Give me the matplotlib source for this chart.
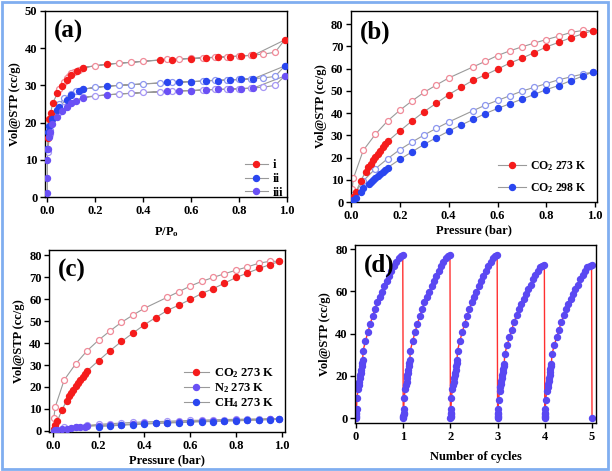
import matplotlib
matplotlib.use("Agg")
import matplotlib.pyplot as plt
from matplotlib.lines import Line2D
from matplotlib.patches import Rectangle

plt.rcParams['font.family'] = ['Liberation Serif', 'DejaVu Serif']
plt.rcParams['font.weight'] = 'bold'
plt.rcParams['mathtext.fontset'] = 'custom'
plt.rcParams['mathtext.rm'] = 'Liberation Serif:bold'
plt.rcParams['mathtext.it'] = 'Liberation Serif:bold'
plt.rcParams['mathtext.default'] = 'rm'

# ---- panel (a): N2 isotherms of samples i, ii, iii ----
a_labels = ['i', 'ii', 'iii']
a_i_ads_p = [0.004, 0.007, 0.014, 0.022, 0.042, 0.062, 0.083, 0.10, 0.125, 0.147, 0.25, 0.47, 0.52, 0.60, 0.66, 0.71, 0.76, 0.81, 0.86, 0.99]
a_i_ads_v = [15.8, 20.9, 22.7, 25.2, 27.9, 29.9, 31.5, 32.7, 34.0, 34.8, 35.7, 36.8, 36.9, 37.2, 37.4, 37.5, 37.7, 37.9, 38.1, 42.2]
a_i_des_p = [0.95, 0.90, 0.85, 0.80, 0.75, 0.70, 0.65, 0.60, 0.55, 0.50, 0.40, 0.35, 0.30, 0.20, 0.15, 0.13, 0.11, 0.10, 0.09, 0.08, 0.07, 0.05]
a_i_des_v = [38.9, 38.4, 38.1, 37.9, 37.7, 37.6, 37.4, 37.3, 37.1, 37.0, 36.5, 36.2, 36.0, 35.3, 34.7, 34.2, 33.6, 33.2, 32.6, 32.0, 31.0, 29.0]

a_ii_ads_p = [0.0, 0.004, 0.008, 0.02, 0.04, 0.05, 0.08, 0.10, 0.13, 0.15, 0.25, 0.50, 0.55, 0.60, 0.66, 0.71, 0.76, 0.81, 0.86, 0.99]
a_ii_ads_v = [13.0, 17.5, 19.0, 21.0, 23.3, 24.3, 26.2, 27.3, 28.6, 29.0, 29.8, 30.8, 30.9, 31.0, 31.2, 31.3, 31.4, 31.6, 31.8, 35.2]
a_ii_des_p = [0.95, 0.90, 0.85, 0.80, 0.75, 0.70, 0.65, 0.60, 0.52, 0.47, 0.40, 0.35, 0.30, 0.20, 0.15, 0.12, 0.10, 0.07, 0.05, 0.01, 0.002]
a_ii_des_v = [32.4, 32.0, 31.8, 31.6, 31.5, 31.4, 31.2, 31.0, 30.8, 30.6, 30.4, 30.2, 30.0, 29.5, 29.0, 28.4, 27.8, 26.5, 25.0, 18.0, 16.0]

a_iii_ads_p = [0.0, 0.0, 0.0, 0.002, 0.005, 0.01, 0.02, 0.04, 0.06, 0.08, 0.10, 0.12, 0.15, 0.25, 0.50, 0.55, 0.60, 0.66, 0.71, 0.76, 0.81, 0.86, 0.99]
a_iii_ads_v = [1.0, 5.0, 10.0, 13.0, 16.0, 17.5, 19.5, 21.5, 23.0, 24.2, 25.2, 25.9, 26.7, 27.5, 28.4, 28.5, 28.6, 28.8, 28.9, 29.0, 29.1, 29.3, 32.5]
a_iii_des_p = [0.95, 0.90, 0.85, 0.80, 0.75, 0.70, 0.65, 0.60, 0.52, 0.47, 0.40, 0.35, 0.30, 0.20, 0.15, 0.10, 0.07, 0.05, 0.01, 0.001]
a_iii_des_v = [30.0, 29.5, 29.3, 29.1, 29.0, 28.9, 28.8, 28.6, 28.5, 28.3, 28.1, 27.9, 27.7, 27.2, 26.8, 25.3, 24.2, 22.8, 17.0, 12.0]

# ---- panels (b), (c): gas isotherms ----
co2_273_ads_p = [0.005, 0.01, 0.02, 0.04, 0.06, 0.07, 0.08, 0.09, 0.10, 0.11, 0.12, 0.13, 0.14, 0.15, 0.20, 0.25, 0.30, 0.35, 0.40, 0.45, 0.50, 0.55, 0.60, 0.65, 0.70, 0.75, 0.80, 0.85, 0.90, 0.95, 0.99]
co2_273_ads_v = [1.0, 2.5, 4.5, 9.5, 13.7, 15.8, 17.2, 18.8, 20.3, 21.6, 23.0, 24.6, 26.0, 27.3, 32.0, 36.5, 40.7, 44.5, 48.3, 51.6, 54.8, 57.2, 59.8, 62.5, 64.7, 67.2, 69.8, 71.8, 73.9, 75.7, 77.1]
co2_273_des_p = [0.99, 0.95, 0.90, 0.85, 0.80, 0.75, 0.70, 0.65, 0.60, 0.55, 0.50, 0.40, 0.35, 0.30, 0.25, 0.20, 0.15, 0.10, 0.05, 0.01, 0.005]
co2_273_des_v = [77.1, 77.2, 76.3, 74.6, 73.1, 71.5, 69.8, 68.0, 65.9, 63.3, 60.8, 55.8, 52.7, 49.4, 45.5, 41.3, 36.5, 30.5, 23.2, 10.7, 6.0]

co2_298_ads_p = [0.005, 0.01, 0.02, 0.04, 0.05, 0.075, 0.08, 0.09, 0.10, 0.11, 0.12, 0.13, 0.14, 0.15, 0.20, 0.25, 0.30, 0.35, 0.40, 0.45, 0.50, 0.55, 0.60, 0.65, 0.70, 0.75, 0.80, 0.85, 0.90, 0.95, 0.99]
co2_298_ads_v = [0.5, 1.0, 2.0, 4.4, 6.3, 8.2, 8.8, 9.8, 10.8, 11.8, 12.8, 13.7, 14.6, 15.5, 19.2, 22.6, 26.0, 29.0, 31.9, 34.6, 37.2, 39.8, 42.1, 44.2, 46.3, 48.4, 50.6, 52.4, 54.6, 56.7, 58.5]
co2_298_des_p = [0.99, 0.95, 0.90, 0.85, 0.80, 0.75, 0.70, 0.65, 0.60, 0.55, 0.50, 0.40, 0.35, 0.30, 0.25, 0.20, 0.15, 0.10, 0.05, 0.01, 0.005]
co2_298_des_v = [58.5, 57.6, 56.3, 55.0, 53.3, 51.6, 49.9, 47.8, 45.7, 43.6, 41.1, 36.0, 33.2, 30.2, 27.0, 23.6, 19.5, 15.0, 9.5, 3.0, 1.5]

n2_ads_p = [0.005, 0.01, 0.02, 0.04, 0.06, 0.08, 0.10, 0.12, 0.14, 0.15, 0.20, 0.25, 0.30, 0.35, 0.40, 0.45, 0.50, 0.55, 0.60, 0.65, 0.70, 0.75, 0.80, 0.85, 0.90, 0.95, 0.99]
n2_ads_v = [0.2, 0.3, 0.5, 0.8, 1.1, 1.4, 1.6, 1.8, 2.0, 2.1, 2.4, 2.7, 2.9, 3.2, 3.4, 3.6, 3.8, 4.0, 4.2, 4.4, 4.5, 4.7, 4.8, 5.0, 5.1, 5.3, 5.5]
n2_des_p = [0.95, 0.90, 0.85, 0.80, 0.75, 0.70, 0.65, 0.60, 0.55, 0.50, 0.40, 0.35, 0.30, 0.25, 0.20, 0.15, 0.10, 0.05]
n2_des_v = [5.6, 5.5, 5.4, 5.3, 5.2, 5.1, 4.9, 4.8, 4.6, 4.4, 4.1, 3.9, 3.6, 3.3, 3.0, 2.5, 2.0, 1.6]
ch4_ads_p = [0.20, 0.25, 0.30, 0.35, 0.40, 0.45, 0.50, 0.55, 0.60, 0.65, 0.70, 0.75, 0.80, 0.85, 0.90, 0.95, 0.99]
ch4_ads_v = [2.0, 2.3, 2.6, 2.9, 3.1, 3.4, 3.6, 3.8, 4.0, 4.2, 4.3, 4.5, 4.6, 4.8, 5.0, 5.1, 5.4]

# ---- panel (d): cycling ----
cyc_p = [0.0, 0.002, 0.004, 0.006, 0.008, 0.01, 0.02, 0.04, 0.06, 0.07, 0.08, 0.09, 0.10, 0.11, 0.12, 0.13, 0.14, 0.15, 0.20, 0.25, 0.30, 0.35, 0.40, 0.45, 0.50, 0.55, 0.60, 0.65, 0.70, 0.75, 0.80, 0.85, 0.90, 0.95, 0.99]
cyc_v_1to3 = [0.0, 0.6, 1.2, 1.8, 2.5, 4.4, 9.4, 13.6, 15.8, 17.2, 18.8, 20.3, 21.6, 23.0, 24.6, 26.0, 27.3, 32.0, 36.5, 40.7, 44.5, 48.3, 51.6, 54.8, 57.2, 59.8, 62.5, 64.7, 67.2, 69.8, 71.8, 73.9, 75.7, 76.5, 77.1]
cyc_v_4to5 = [0.0, 0.6, 1.2, 1.8, 2.5, 4.2, 8.8, 12.8, 14.8, 16.2, 17.7, 19.1, 20.4, 21.7, 23.2, 24.5, 25.8, 30.2, 34.4, 38.3, 41.9, 45.5, 48.6, 51.6, 53.9, 56.3, 58.8, 60.9, 63.2, 65.7, 67.6, 69.6, 71.3, 72.0, 72.6]
n_cycles = 5

RED, RED_O = '#f51c1c', '#f08a98'
BLUE, BLUE_O = '#2a46f0', '#8c96f0'
PURP, PURP_O = '#6a50f5', '#a596f5'
GRAY = '#9a9a9a'
MS = 4.3
TICK_FS = 9

fig = plt.figure(figsize=(6.12, 4.71), dpi=100)
fig.patches.append(Rectangle((0.003, 0.005), 0.991, 0.99, transform=fig.transFigure,
                             fill=False, edgecolor='#80aef0', linewidth=2))


def style(ax):
    ax.tick_params(direction='out', length=3.5, width=1, labelsize=TICK_FS, top=False, right=False, pad=2)
    for s in ax.spines.values():
        s.set_linewidth(1)
    ax.set_ylabel('Vol@STP (cc/g)', fontsize=9, fontweight='bold', labelpad=3)


def branch(ax, p_ads, v_ads, p_des, v_des, col, col_o, label=None):
    ax.plot(list(p_ads) + list(p_des), list(v_ads) + list(v_des), '-', color=GRAY, lw=0.8, zorder=1)
    ax.plot(p_des, v_des, 'o', ms=MS, mfc='white', mec=col_o, mew=0.9, zorder=2)
    ax.plot(p_ads, v_ads, 'o', ms=MS, color=col, mec=col, zorder=3)
    return Line2D([], [], color=GRAY, lw=0.8, marker='o', ms=MS, mfc=col, mec=col, label=label)


def panel_tag(ax, t):
    ax.text(0.035, 0.95, t, transform=ax.transAxes, fontsize=18, fontweight='bold', va='top')


# (a)
axa = fig.add_axes([0.0735, 0.5817, 0.3955, 0.395])
h = [branch(axa, a_i_ads_p, a_i_ads_v, a_i_des_p, a_i_des_v, RED, RED_O, a_labels[0]),
     branch(axa, a_ii_ads_p, a_ii_ads_v, a_ii_des_p, a_ii_des_v, BLUE, BLUE_O, a_labels[1]),
     branch(axa, a_iii_ads_p, a_iii_ads_v, a_iii_des_p, a_iii_des_v, PURP, PURP_O, a_labels[2])]
axa.set_xlim(-0.01, 1.0)
axa.set_ylim(0, 50)
axa.set_xticks([0, 0.2, 0.4, 0.6, 0.8, 1.0])
axa.set_yticks([0, 10, 20, 30, 40, 50])
axa.set_xlabel('P/P$_o$', fontsize=9, fontweight='bold', labelpad=6)
style(axa)
axa.legend(handles=h, loc='lower right', frameon=False, fontsize=9, handlelength=1.8,
           labelspacing=0.15, handletextpad=0.4, bbox_to_anchor=(1.03, -0.07))
panel_tag(axa, '(a)')

# (b)
axb = fig.add_axes([0.5735, 0.571, 0.402, 0.406])
h = [branch(axb, co2_273_ads_p, co2_273_ads_v, co2_273_des_p, co2_273_des_v, RED, RED_O, 'CO$_2$ 273 K'),
     branch(axb, co2_298_ads_p, co2_298_ads_v, co2_298_des_p, co2_298_des_v, BLUE, BLUE_O, 'CO$_2$ 298 K')]
axb.set_xlim(0, 1.007)
axb.set_ylim(0, 86)
axb.set_xticks([0, 0.2, 0.4, 0.6, 0.8, 1.0])
axb.set_yticks(range(0, 81, 10))
axb.set_xlabel('Pressure (bar)', fontsize=9, fontweight='bold', labelpad=2)
style(axb)
axb.legend(handles=h, loc='lower right', frameon=False, fontsize=8.5, handlelength=2.4,
           labelspacing=0.7, handletextpad=0.3, bbox_to_anchor=(1.0, -0.02))
panel_tag(axb, '(b)')

# (c)
axc = fig.add_axes([0.0806, 0.0822, 0.385, 0.387])
h = [branch(axc, co2_273_ads_p, co2_273_ads_v, co2_273_des_p, co2_273_des_v, RED, RED_O, 'CO$_2$ 273 K'),
     branch(axc, n2_ads_p, n2_ads_v, n2_des_p, n2_des_v, PURP, PURP_O, 'N$_2$ 273 K')]
axc.plot(ch4_ads_p, ch4_ads_v, '-', color=GRAY, lw=0.8, zorder=1)
axc.plot(ch4_ads_p, ch4_ads_v, 'o', ms=MS, color=BLUE, zorder=3)
h.append(Line2D([], [], color=GRAY, lw=0.8, marker='o', ms=MS, mfc=BLUE, mec=BLUE, label='CH$_4$ 273 K'))
axc.set_xlim(-0.015, 1.014)
axc.set_ylim(-0.6, 82.3)
axc.set_xticks([0, 0.2, 0.4, 0.6, 0.8, 1.0])
axc.set_yticks(range(0, 81, 10))
axc.set_xlabel('Pressure (bar)', fontsize=9, fontweight='bold', labelpad=2)
style(axc)
axc.legend(handles=h, loc='lower right', frameon=False, fontsize=9, handlelength=2.0,
           labelspacing=0.1, handletextpad=0.4, bbox_to_anchor=(1.0, 0.06))
panel_tag(axc, '(c)')

# (d)
axd = fig.add_axes([0.5806, 0.1013, 0.3933, 0.3785])
xs, ys = [], []
for k in range(n_cycles):
    vals = cyc_v_1to3 if k < 3 else cyc_v_4to5
    xs += [k + p for p in cyc_p]
    ys += vals
xs.append(n_cycles)
ys.append(cyc_v_1to3[0])
axd.plot(xs, ys, '-', color='#ff3030', lw=1.0, zorder=1)
axd.plot(xs, ys, 'o', ms=MS, color='#5a48f2', zorder=2)
axd.set_xlim(-0.015, 5.085)
axd.set_ylim(-2.4, 81.9)
axd.set_xticks(range(0, 6))
axd.set_yticks([0, 20, 40, 60, 80])
axd.set_xlabel('Number of cycles', fontsize=9, fontweight='bold', labelpad=6)
style(axd)
panel_tag(axd, '(d)')

fig.savefig('out.png', dpi=100)
